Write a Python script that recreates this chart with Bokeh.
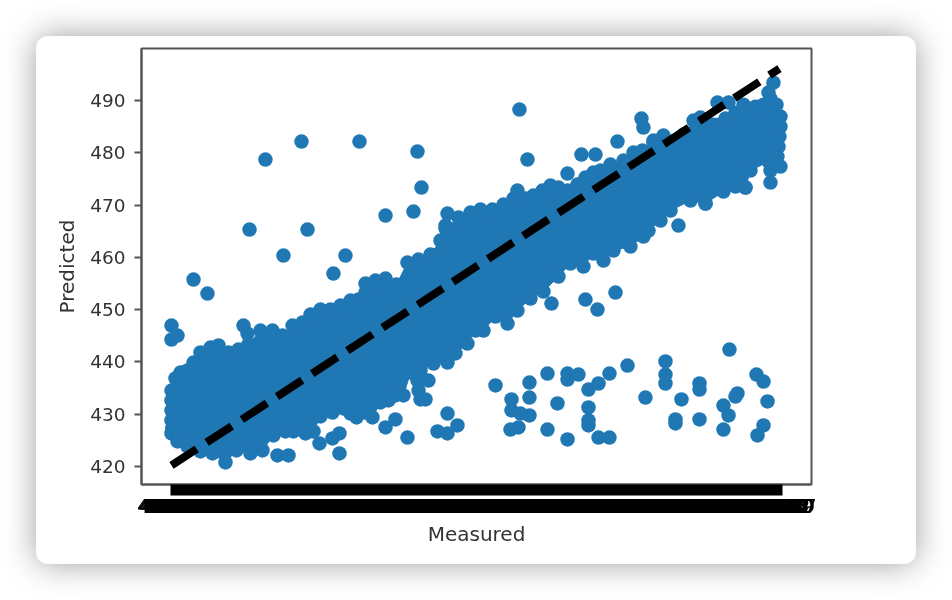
from bokeh.embed import file_html
from bokeh.models import FixedTicker, PrintfTickFormatter, Range1d
from bokeh.plotting import figure
from bokeh.resources import INLINE

BLUE = "#1f77b4"

# Upper and lower edge of the solid, overplotted mass of points (centres)
mass_top_x = [420.20,420.70,421.32,422.20,422.95,423.82,425.07,426.07,427.32,428.56,429.81,431.31,432.81,434.06,435.31,436.55,
              437.55,438.80,440.05,441.30,442.55,443.55,444.42,445.67,446.92,448.29,449.66,451.04,452.53,453.78,454.41,456.03,
              457.53,458.78,460.27,461.65,462.90,464.39,465.39,466.52,467.51,468.51,469.64,470.88,471.88,472.88,473.76,475.00,
              476.63,477.88,479.00,480.37,481.62,484.12,485.37,486.24,489.36,490.61,491.61,493.11,494.11,494.98,495.73,496.23]
mass_top_y = [434.53,436.83,437.97,438.36,439.88,441.80,442.75,443.14,441.80,442.37,443.33,446.00,446.00,445.05,446.96,447.53,
              449.06,450.02,450.02,450.78,451.74,451.93,453.27,454.22,454.61,454.80,459.00,459.58,460.53,463.21,465.51,467.61,
              468.56,469.14,469.14,470.09,471.24,471.24,471.82,472.77,473.73,473.34,472.77,473.92,475.26,476.21,476.60,477.74,
              478.51,480.04,480.42,481.95,483.29,483.48,486.16,486.73,486.54,487.68,489.21,488.83,489.21,490.36,489.21,486.92]
mass_bottom_x = [420.20,420.95,422.20,423.82,425.32,426.94,428.31,430.06,431.56,432.93,434.43,435.43,436.93,437.93,438.80,
                 440.30,441.67,442.55,443.30,444.42,445.29,446.29,447.29,448.16,449.16,450.04,451.29,452.91,453.78,454.66,
                 455.65,457.15,458.15,459.15,460.65,462.15,463.39,465.02,466.64,468.51,470.01,471.63,472.88,474.13,475.38,
                 477.50,479.12,479.75,481.25,482.50,485.00,486.87,489.11,490.61,491.86,492.48,494.73,496.23]
mass_bottom_y = [426.31,424.78,423.82,422.87,422.49,420.76,423.06,422.49,423.06,425.93,426.69,426.69,426.31,426.69,429.56,
                 430.32,431.09,430.13,429.37,430.32,429.37,432.24,432.62,433.58,433.58,437.97,438.36,439.69,441.22,439.88,
                 441.61,443.52,446.00,446.00,448.68,447.34,449.83,452.12,453.46,456.33,458.81,458.24,460.73,459.39,461.30,
                 462.06,463.98,465.12,467.04,468.95,470.86,470.29,472.58,473.54,473.34,476.60,478.32,477.36]
mass_side_x = [420.20,420.20,420.20,420.30,496.23,496.10,495.98,495.85]
mass_side_y = [432.62,430.71,428.80,427.27,485.01,483.10,481.18,479.27]

# Points that can be told apart
upper_x = [436.43,443.67,431.93,450.91,451.41,446.92,450.41,429.94,437.18,434.18,441.92,440.42,422.95,424.69,420.20,420.95,
           420.20,429.19,429.69,444.42,445.67,446.92,454.66,454.41,463.64,464.64,478.87,479.12,475.88,471.38,473.13,469.64,
           463.39,480.37,488.36,489.74,494.73,495.35,494.98,494.98,483.49,486.87,491.86,467.64,471.88,473.38,475.63]
upper_y = [482.14,482.14,478.70,480.23,473.34,467.99,468.76,465.31,465.31,460.34,460.34,456.90,455.75,453.08,446.96,445.05,
           444.28,446.96,445.43,454.99,455.56,455.95,468.37,466.08,488.26,478.70,486.54,484.82,482.14,479.65,479.65,476.02,
           472.77,482.33,489.60,489.60,491.51,493.42,474.30,476.60,466.08,470.29,473.34,451.17,451.93,450.02,453.27]
lower_x = [433.43,434.81,438.68,440.30,441.17,441.17,448.16,446.92,449.66,454.66,455.90,453.41,454.66,450.91,452.28,451.04,
           451.91,451.29,460.65,464.89,464.89,462.65,462.65,463.77,464.89,463.52,462.52,467.14,469.64,469.64,471.01,468.39,
           467.14,469.64,472.26,473.51,474.88,477.13,472.26,472.26,472.26,473.51,474.88,479.37,481.87,481.87,481.87,483.12,
           483.12,483.87,486.12,486.12,486.12,489.11,489.74,489.11,490.86,490.61,489.86,493.23,494.11,494.61,494.11,493.36]
lower_y = [422.10,422.10,424.40,425.35,426.31,422.49,428.99,427.46,425.54,430.13,427.84,426.69,426.31,436.44,436.44,434.53,
           432.81,432.81,435.49,436.06,433.19,432.81,430.71,430.13,429.75,427.46,427.07,437.78,437.78,436.63,437.59,432.05,
           427.07,425.16,434.72,435.87,437.78,439.31,431.28,428.80,427.84,425.54,425.54,433.19,440.08,437.59,435.87,428.99,
           428.22,432.81,435.87,434.72,428.99,431.66,429.75,427.07,433.96,433.38,442.37,437.59,436.25,432.43,427.84,425.93]

identity_ends = [420.2, 496.1]
y_ticks = [420, 430, 440, 450, 460, 470, 480, 490]

# Every measured value is a tick of its own in the reference, which is what makes the black bands
measured_ticks = [
    420.25,420.44,420.62,420.81,421.00,421.19,421.37,421.56,421.75,421.94,422.12,422.31,422.50,422.69,422.87,423.06,
    423.25,423.44,423.62,423.81,424.00,424.19,424.37,424.56,424.75,424.94,425.12,425.31,425.50,425.69,425.87,426.06,
    426.25,426.44,426.62,426.81,427.00,427.19,427.37,427.56,427.75,427.94,428.12,428.31,428.50,428.69,428.87,429.06,
    429.25,429.44,429.62,429.81,430.00,430.19,430.37,430.56,430.75,430.94,431.12,431.31,431.50,431.69,431.87,432.06,
    432.25,432.44,432.62,432.81,433.00,433.19,433.37,433.56,433.75,433.94,434.12,434.31,434.50,434.69,434.87,435.06,
    435.25,435.44,435.62,435.81,436.00,436.19,436.37,436.56,436.75,436.94,437.12,437.31,437.50,437.69,437.87,438.06,
    438.25,438.44,438.62,438.81,439.00,439.19,439.37,439.56,439.75,439.94,440.12,440.31,440.50,440.69,440.87,441.06,
    441.25,441.44,441.62,441.81,442.00,442.19,442.37,442.56,442.75,442.94,443.12,443.31,443.50,443.69,443.87,444.06,
    444.25,444.44,444.62,444.81,445.00,445.19,445.37,445.56,445.75,445.94,446.12,446.31,446.50,446.69,446.87,447.06,
    447.25,447.44,447.62,447.81,448.00,448.19,448.37,448.56,448.75,448.94,449.12,449.31,449.50,449.69,449.87,450.06,
    450.25,450.44,450.62,450.81,451.00,451.19,451.37,451.56,451.75,451.94,452.12,452.31,452.50,452.69,452.87,453.06,
    453.25,453.44,453.62,453.81,454.00,454.19,454.37,454.56,454.75,454.94,455.12,455.31,455.50,455.69,455.87,456.06,
    456.25,456.44,456.62,456.81,457.00,457.19,457.37,457.56,457.75,457.94,458.12,458.31,458.50,458.69,458.87,459.06,
    459.25,459.44,459.62,459.81,460.00,460.19,460.37,460.56,460.75,460.94,461.12,461.31,461.50,461.69,461.87,462.06,
    462.25,462.44,462.62,462.81,463.00,463.19,463.37,463.56,463.75,463.94,464.12,464.31,464.50,464.69,464.87,465.06,
    465.25,465.44,465.62,465.81,466.00,466.19,466.37,466.56,466.75,466.94,467.12,467.31,467.50,467.69,467.87,468.06,
    468.25,468.44,468.62,468.81,469.00,469.19,469.37,469.56,469.75,469.94,470.12,470.31,470.50,470.69,470.87,471.06,
    471.25,471.44,471.62,471.81,472.00,472.19,472.37,472.56,472.75,472.94,473.12,473.31,473.50,473.69,473.87,474.06,
    474.25,474.44,474.62,474.81,475.00,475.19,475.37,475.56,475.75,475.94,476.12,476.31,476.50,476.69,476.87,477.06,
    477.25,477.44,477.62,477.81,478.00,478.19,478.37,478.56,478.75,478.94,479.12,479.31,479.50,479.69,479.87,480.06,
    480.25,480.44,480.62,480.81,481.00,481.19,481.37,481.56,481.75,481.94,482.12,482.31,482.50,482.69,482.87,483.06,
    483.25,483.44,483.62,483.81,484.00,484.19,484.37,484.56,484.75,484.94,485.12,485.31,485.50,485.69,485.87,486.06,
    486.25,486.44,486.62,486.81,487.00,487.19,487.37,487.56,487.75,487.94,488.12,488.31,488.50,488.69,488.87,489.06,
    489.25,489.44,489.62,489.81,490.00,490.19,490.37,490.56,490.75,490.94,491.12,491.31,491.50,491.69,491.87,492.06,
    492.25,492.44,492.62,492.81,493.00,493.19,493.37,493.56,493.75,493.94,494.12,494.31,494.50,494.69,494.87,495.06,
    495.25,495.44,495.62,495.81,496.00,496.19,496.37,
]

p = figure(
    width=880, height=528,
    x_range=Range1d(416.455, 500.1), y_range=Range1d(416.55, 499.95),
    x_axis_label="Measured", y_axis_label="Predicted",
    output_backend="svg", toolbar_location=None, tools="",
    min_border_left=105, min_border_right=105, min_border_top=12, min_border_bottom=80,
)
p.margin = (36, 0, 0, 36)
p.styles = {
    "border-radius": "12px",
    "background": "#ffffff",
    "box-shadow": "0 0 32px rgba(0,0,0,0.38)",
    "filter": "blur(0.5px)",
}
p.border_fill_color = None
p.background_fill_color = "#ffffff"
p.grid.visible = False
p.outline_line_color = "#555555"
p.outline_line_width = 2

p.patch(mass_top_x + mass_bottom_x[::-1], mass_top_y + mass_bottom_y[::-1], fill_color=BLUE, line_color=BLUE, line_width=1)
for xs, ys in ((mass_top_x, mass_top_y), (mass_bottom_x, mass_bottom_y), (mass_side_x, mass_side_y), (upper_x, upper_y), (lower_x, lower_y)):
    p.scatter(xs, ys, size=14.5, fill_color=BLUE, line_color=None)
p.line(identity_ends, identity_ends, line_color="#000000", line_width=8, line_dash="30 12", line_cap="butt")

xa = p.xaxis[0]
xa.ticker = FixedTicker(ticks=measured_ticks)
xa.formatter = PrintfTickFormatter(format="%.2f")
xa.axis_line_color = "#555555"
xa.axis_line_width = 2
xa.major_tick_line_color = "#000000"
xa.major_tick_line_width = 2
xa.major_tick_in = 0
xa.major_tick_out = 11
xa.minor_tick_line_color = None
xa.major_label_standoff = 3
xa.major_label_text_font = "DejaVu Sans"
xa.major_label_text_font_size = "20px"
xa.major_label_text_color = "#000000"
xa.major_label_orientation = "horizontal"
xa.axis_label_text_font = "DejaVu Sans"
xa.axis_label_text_font_size = "20px"
xa.axis_label_text_font_style = "normal"
xa.axis_label_text_color = "#333333"
xa.axis_label_standoff = 6

ya = p.yaxis[0]
ya.ticker = FixedTicker(ticks=y_ticks)
ya.axis_line_color = "#555555"
ya.axis_line_width = 2
ya.major_tick_line_color = "#555555"
ya.major_tick_line_width = 2
ya.major_tick_in = 0
ya.major_tick_out = 7
ya.minor_tick_line_color = None
ya.major_label_standoff = 9
ya.major_label_text_font = "DejaVu Sans"
ya.major_label_text_font_size = "18.5px"
ya.major_label_text_color = "#333333"
ya.axis_label_text_font = "DejaVu Sans"
ya.axis_label_text_font_size = "20px"
ya.axis_label_text_font_style = "normal"
ya.axis_label_text_color = "#333333"
ya.axis_label_standoff = 8

open("out.html", "w").write(file_html(p, INLINE))
